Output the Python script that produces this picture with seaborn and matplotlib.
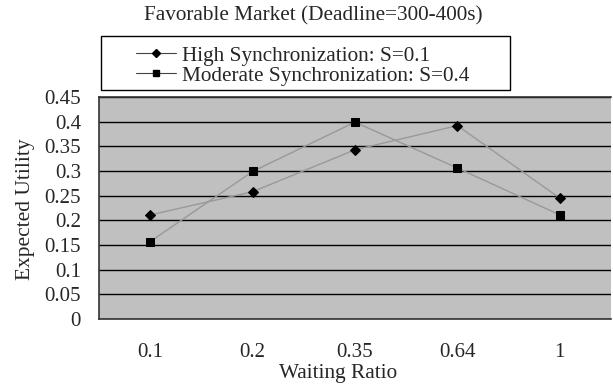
import numpy as np
import pandas as pd
import matplotlib
matplotlib.use("Agg")
import matplotlib.pyplot as plt
import seaborn as sns
from matplotlib.ticker import FixedLocator, MultipleLocator
from matplotlib.lines import Line2D
from matplotlib.patches import Rectangle

waiting_ratio = ["0.1", "0.2", "0.35", "0.64", "1"]
high_sync = [0.211, 0.258, 0.343, 0.392, 0.245]
moderate_sync = [0.157, 0.299, 0.399, 0.306, 0.211]
series_names = ["High Synchronization: S=0.1", "Moderate Synchronization: S=0.4"]

df = pd.DataFrame({
    "pos": list(range(len(waiting_ratio))) * 2,
    "value": high_sync + moderate_sync,
    "series": [series_names[0]] * len(waiting_ratio) + [series_names[1]] * len(waiting_ratio),
})

sns.set_theme(style="white")
plt.rcParams["font.family"] = ["Liberation Serif", "DejaVu Serif"]

W, H = 613, 387
fig = plt.figure(figsize=(W / 100, H / 100), dpi=100)
ax = fig.add_axes([99 / W, 1 - 319 / H, 512 / W, 222 / H])
ax.set_facecolor("#c0c0c0")

sns.lineplot(
    data=df, x="pos", y="value", hue="series", style="series",
    markers={series_names[0]: "D", series_names[1]: "s"},
    dashes=False,
    palette={series_names[0]: "#999999", series_names[1]: "#999999"},
    linewidth=1.0, ax=ax, legend=False,
)
for line in ax.get_lines():
    if line.get_marker() == "D":
        line.set_markersize(5)
    elif line.get_marker() == "s":
        line.set_markersize(6)
    line.set_markerfacecolor("black")
    line.set_markeredgecolor("black")

ax.set_xlim(-0.5, len(waiting_ratio) - 0.5)
ax.set_ylim(0, 0.45)
ax.yaxis.set_major_locator(MultipleLocator(0.05))
ax.set_yticklabels([f"{v:g}" for v in ax.get_yticks()])
ax.grid(axis="y", color="black", linewidth=1.0)
ax.set_axisbelow(True)

ax.set_xticks(range(len(waiting_ratio)))
ax.set_xticklabels(waiting_ratio)
ax.xaxis.set_minor_locator(FixedLocator([i + 0.5 for i in range(len(waiting_ratio) - 1)]))
ax.tick_params(axis="x", which="major", length=0, pad=17, labelsize=15)
ax.tick_params(axis="x", which="minor", length=6, direction="in", width=1.2, color="#222222")
ax.tick_params(axis="y", which="major", length=0, pad=13, labelsize=15)

for s in ["left", "bottom", "top"]:
    ax.spines[s].set_visible(True)
    ax.spines[s].set_color("#333333")
    ax.spines[s].set_linewidth(1.2)
ax.spines["right"].set_visible(False)

ax.set_xlabel("Waiting Ratio", fontsize=15.3)
ax.xaxis.set_label_coords((338 - 99) / 512, (319 - 364) / 222)
ax.set_ylabel("Expected Utility", fontsize=15.4)
ax.yaxis.set_label_coords((35 - 99) / 512, (319 - 209) / 222)

fig.text(313 / W, 1 - 16 / H, "Favorable Market (Deadline=300-400s)",
         ha="center", va="center", fontsize=15.3)

# legend frame
fig.patches.append(Rectangle((101 / W, 1 - 90 / H), (510 - 101) / W, (90 - 36) / H,
                             transform=fig.transFigure, facecolor="white",
                             edgecolor="black", linewidth=1.0, zorder=1))

handles = [
    Line2D([0], [0], color="#444444", linewidth=0.8, marker="D", markersize=4,
           markerfacecolor="black", markeredgecolor="black"),
    Line2D([0], [0], color="#444444", linewidth=0.8, marker="s", markersize=5,
           markerfacecolor="black", markeredgecolor="black"),
]
leg = fig.legend(handles, series_names, loc="upper left",
                 bbox_to_anchor=(136 / W, 1 - 46 / H),
                 frameon=False, fontsize=15.3,
                 handlelength=1.88, handletextpad=0.28, labelspacing=0.0,
                 borderpad=0, borderaxespad=0)
leg.set_zorder(2)

fig.savefig("out.png", dpi=100)
